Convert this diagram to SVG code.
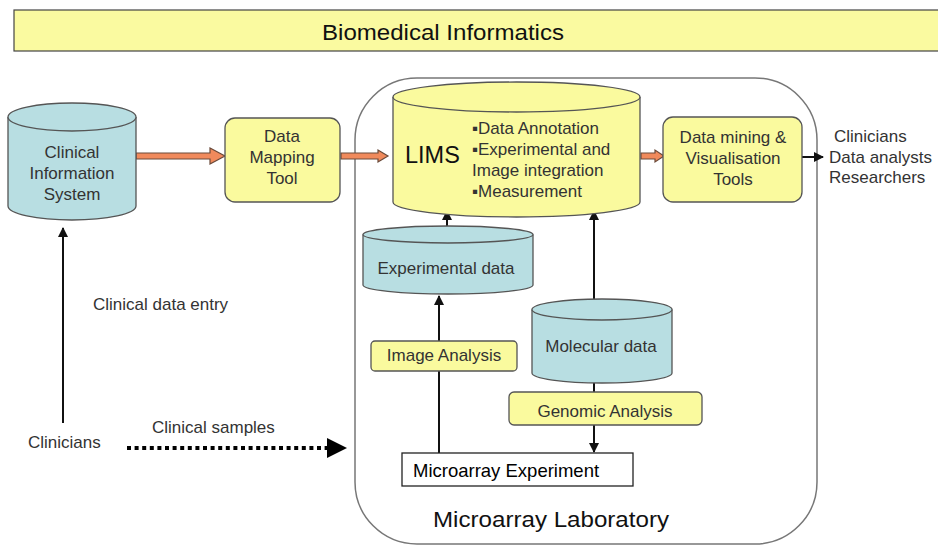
<svg xmlns="http://www.w3.org/2000/svg" width="938" height="545" viewBox="0 0 938 545">
  <style>
    text { font-family: "Liberation Sans", Arial, sans-serif; fill: #333; font-size: 17px; }
    .mid { text-anchor: middle; }
    .cyl { fill: #B8DEE2; stroke: #555; stroke-width: 1.3; }
    .lims { fill: #FAFA9E; stroke: #555; stroke-width: 1.3; }
    .box { fill: #FAFA9E; stroke: #555; stroke-width: 1.3; }
    .flow { fill: #F08A5C; stroke: #6A4A3A; stroke-width: 1.2; stroke-linejoin: miter; }
    .link { fill: none; stroke: #111; stroke-width: 2; }
  </style>
  <defs>
    <marker id="tip" viewBox="0 0 10 10" refX="9" refY="5" markerWidth="5" markerHeight="5" orient="auto" markerUnits="strokeWidth">
      <path d="M0,0 L10,5 L0,10 z" fill="#111"/>
    </marker>
    <marker id="bigtip" viewBox="0 0 10 10" refX="9" refY="5" markerWidth="5" markerHeight="5" orient="auto" markerUnits="strokeWidth">
      <path d="M0,0 L10,5 L0,10 z" fill="#000"/>
    </marker>
  </defs>

  <rect width="938" height="545" fill="#fff"/>

  <!-- title banner -->
  <g id="banner">
    <rect x="14" y="10" width="930" height="41" fill="#FAFAA0" stroke="#444" stroke-width="1.2"/>
    <text x="443" y="40" class="mid" style="font-size:22px; fill:#111" textLength="242" lengthAdjust="spacingAndGlyphs">Biomedical Informatics</text>
  </g>

  <!-- laboratory boundary -->
  <g id="lab">
    <rect x="355" y="78" width="462" height="466" rx="62" ry="62" fill="none" stroke="#777" stroke-width="1.5"/>
    <text x="551" y="527" class="mid" style="font-size:22px; fill:#111" textLength="236" lengthAdjust="spacingAndGlyphs">Microarray Laboratory</text>
  </g>

  <!-- connectors -->
  <g id="connectors">
    <!-- wide orange flow arrows -->
    <path class="flow" d="M136,153 H210 V148 L225,156 L210,164 V159 H136 Z"/>
    <path class="flow" d="M341,153 H378 V150 L388,156 L378,162 V159 H341 Z"/>
    <path class="flow" d="M641,153 H655 V150 L664,156 L655,162 V159 H641 Z"/>
    <!-- output to users -->
    <line class="link" x1="802" y1="157" x2="823" y2="157" marker-end="url(#tip)"/>
    <!-- experimental data to LIMS -->
    <line class="link" x1="447" y1="226" x2="447" y2="211" marker-end="url(#tip)"/>
    <!-- microarray experiment up through image analysis to experimental data -->
    <line class="link" x1="439" y1="453" x2="439" y2="296" marker-end="url(#tip)"/>
    <!-- molecular data to LIMS -->
    <line class="link" x1="594" y1="299" x2="594" y2="211" marker-end="url(#tip)"/>
    <!-- molecular data down through genomic analysis to microarray experiment -->
    <line class="link" x1="594" y1="383" x2="594" y2="452" marker-end="url(#tip)"/>
    <!-- clinical data entry -->
    <line class="link" x1="63" y1="423" x2="63" y2="228" marker-end="url(#tip)"/>
    <!-- clinical samples (dotted) -->
    <line x1="127" y1="448" x2="330" y2="448" stroke="#000" stroke-width="4" stroke-dasharray="4 3.6"/>
    <path d="M327,438 L347,448 L327,458 Z" fill="#000"/>
  </g>

  <!-- clinical information system -->
  <g id="clinical-information-system">
    <path class="cyl" d="M8,117 V206 A64,14 0 0 0 136,206 V117"/>
    <ellipse class="cyl" cx="72" cy="117" rx="64" ry="14"/>
    <text x="72" y="158" class="mid">Clinical</text>
    <text x="72" y="179" class="mid">Information</text>
    <text x="72" y="200" class="mid">System</text>
  </g>

  <!-- data mapping tool -->
  <g id="data-mapping-tool">
    <rect class="box" x="225" y="118" width="115" height="84" rx="10" ry="10"/>
    <text x="282" y="142" class="mid">Data</text>
    <text x="282" y="163" class="mid">Mapping</text>
    <text x="282" y="184" class="mid">Tool</text>
  </g>

  <!-- LIMS -->
  <g id="lims">
    <path class="lims" d="M393,97 V202 A123.5,15 0 0 0 640,202 V97"/>
    <ellipse class="lims" cx="516.5" cy="97" rx="123.5" ry="15"/>
    <text x="405" y="163" style="font-size:23.5px; fill:#111">LIMS</text>
    <text x="472" y="134">▪Data Annotation</text>
    <text x="472" y="155">▪Experimental and</text>
    <text x="472" y="176">Image integration</text>
    <text x="472" y="197">▪Measurement</text>
  </g>

  <!-- data mining and visualisation -->
  <g id="data-mining-tools">
    <rect class="box" x="663" y="117" width="139" height="85" rx="10" ry="10"/>
    <text x="733" y="143" class="mid">Data mining &amp;</text>
    <text x="733" y="164" class="mid">Visualisation</text>
    <text x="733" y="185" class="mid">Tools</text>
  </g>

  <!-- users -->
  <g id="users">
    <text x="834" y="142">Clinicians</text>
    <text x="829" y="163">Data analysts</text>
    <text x="829" y="183">Researchers</text>
  </g>

  <!-- experimental data -->
  <g id="experimental-data">
    <path class="cyl" d="M363,234.5 V285 A85,9 0 0 0 533,285 V234.5"/>
    <ellipse class="cyl" cx="448" cy="234.5" rx="85" ry="8.5"/>
    <text x="446" y="274" class="mid">Experimental data</text>
  </g>

  <!-- image analysis -->
  <g id="image-analysis">
    <rect class="box" x="371" y="341" width="146" height="30" rx="4" ry="4"/>
    <text x="444" y="361" class="mid">Image Analysis</text>
  </g>

  <!-- molecular data -->
  <g id="molecular-data">
    <path class="cyl" d="M532,309.5 V373 A70,10 0 0 0 672,373 V309.5"/>
    <ellipse class="cyl" cx="602" cy="309.5" rx="70" ry="10.5"/>
    <text x="601" y="352" class="mid">Molecular data</text>
  </g>

  <!-- genomic analysis -->
  <g id="genomic-analysis">
    <rect class="box" x="509" y="392" width="193" height="33" rx="5" ry="5"/>
    <text x="605" y="417" class="mid">Genomic Analysis</text>
  </g>

  <!-- microarray experiment -->
  <g id="microarray-experiment">
    <rect x="402" y="453" width="231" height="33" fill="#fff" stroke="#222" stroke-width="1.3"/>
    <text x="413" y="477" style="font-size:18.5px; fill:#000">Microarray Experiment</text>
  </g>

  <!-- free labels -->
  <g id="clinicians">
    <text x="28" y="448">Clinicians</text>
  </g>
  <g id="labels">
    <text x="93" y="310">Clinical data entry</text>
    <text x="152" y="433">Clinical samples</text>
  </g>
</svg>
